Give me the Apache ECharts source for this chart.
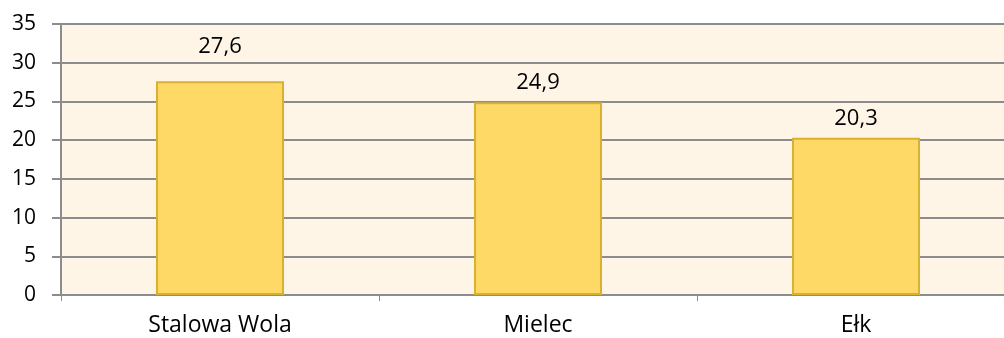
<!DOCTYPE html>
<html><head><meta charset="utf-8">
<script src="https://cdn.jsdelivr.net/npm/echarts@6/dist/echarts.min.js"></script>
<style>html,body{margin:0;padding:0;background:#fff}#c{width:1004px;height:338px}</style>
</head><body><div id="c"></div>
<script>
const categories = ['Stalowa Wola', 'Mielec', 'Ełk'];
const values = [27.6, 24.9, 20.3];
const chart = echarts.init(document.getElementById('c'));
const font = '"Open Sans", sans-serif';
const labelGap = [24, 8, 8];
chart.setOption({
  animation: false,
  grid: {left: 61, width: 954, top: 24, bottom: 43, backgroundColor: '#FEF5E7', show: true, borderWidth: 0,
    outerBoundsMode: 'none', containLabel: false},
  xAxis: {
    type: 'category', data: categories,
    axisLine: {lineStyle: {color: '#8c8c8c', width: 2}},
    axisTick: {show: true, length: 6, lineStyle: {color: '#8c8c8c', width: 1}},
    axisLabel: {color: '#000', fontSize: 23, fontFamily: font, margin: 19}
  },
  yAxis: {
    type: 'value', min: 0, max: 35, interval: 5,
    axisLine: {show: true, lineStyle: {color: '#8c8c8c', width: 2}},
    axisTick: {show: true, length: 9, lineStyle: {color: '#8c8c8c', width: 2}},
    splitLine: {lineStyle: {color: '#8c8c8c', width: 2}},
    axisLabel: {color: '#000', fontSize: 21, fontFamily: font, margin: 25}
  },
  series: [{
    type: 'bar', barWidth: 128,
    data: values.map((v, i) => ({value: v, label: {distance: labelGap[i]}})),
    itemStyle: {color: '#FFD966', borderColor: '#D9B030', borderWidth: 2},
    label: {show: true, position: 'top', color: '#000', fontSize: 22, fontFamily: font,
      formatter: p => String(p.value).replace('.', ',')}
  }]
});
</script></body></html>
